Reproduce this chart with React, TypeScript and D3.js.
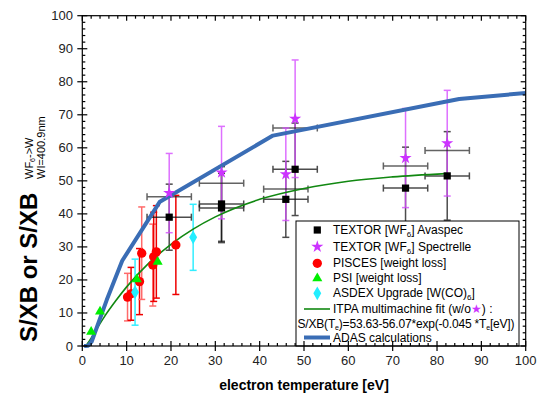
import React from "react";
import * as d3 from "d3";

// ADAS calculation curve
const adasTe = [0.4, 1.3, 2.1, 5.5, 9, 17.5, 43, 85, 100];
const adasSXB = [0, 0.1, 1.3, 13.9, 25.8, 43.7, 63.7, 74.8, 76.6];

// ITPA multimachine fit
const fitTe = [0.8, 2, 3, 5, 7.5, 10, 15, 20, 25, 30, 40, 50, 60, 70, 82];
const fitSXB = [0, 2.4, 4.6, 8.9, 13.6, 17.9, 25.1, 30.8, 35.4, 39.1, 44.4, 47.7, 49.9, 51.2, 52.2];

// TEXTOR [WF6] Avaspec: Te, S/XB, Te error, S/XB error
const avaspec = [
  [19.6, 39.0, 5, 10],
  [31.4, 43.0, 5, 11.3],
  [31.4, 41.8, 5, 10.5],
  [48.0, 53.5, 5, 14],
  [45.9, 44.4, 5, 11.5],
  [72.9, 47.8, 5, 12.4],
  [82.3, 51.5, 5, 13.4],
];

// TEXTOR [WF6] Spectrelle: Te, S/XB, S/XB error, Te error, level of Te bar
const spectrelle = [
  [19.6, 46.3, 12, 5, 45.2],
  [31.4, 52.5, 14, 5, 49.3],
  [48.0, 68.8, 17.8, 5, 66.0],
  [45.9, 52.0, 14, 5, 47.5],
  [72.9, 56.9, 15, 5, 54.5],
  [82.3, 61.4, 16, 5, 59.2],
];

// PISCES [weight loss]: Te, S/XB, error, light bar
const pisces = [
  [10.2, 14.8, 7.2, 1],
  [11.0, 15.8, 8, 0],
  [12.9, 19.5, 10, 0],
  [13.4, 28.1, 14, 1],
  [15.9, 24.5, 12.4, 1],
  [16.1, 27.0, 13.5, 0],
  [16.7, 28.5, 14, 0],
  [21.1, 30.6, 15, 0],
];

// PSI [weight loss]
const psiTe = [2.0, 4.0, 12.3, 17.0];
const psiSXB = [4.3, 10.4, 20.2, 25.5];

// ASDEX Upgrade [W(CO)6]: Te, S/XB, error
const asdex = [
  [11.9, 16.3, 10],
  [25.0, 32.9, 10],
];

const xTicks = d3.range(0, 101, 10);
const yTicks = d3.range(0, 101, 10);
const minorTicks = d3.range(0, 101, 2).filter((v) => v % 10 !== 0);

const W = 537, H = 396;
const font = "'Liberation Sans', Arial, sans-serif";

export default function App() {
  const x = d3.scaleLinear().domain([0, 100]).range([82.3, 525.7]);
  const y = d3.scaleLinear().domain([0, 100]).range([346, 15.7]);
  const [x0, x1] = x.range();
  const [y0, y1] = y.range();

  const line = d3.line<number>().x((_, i) => x(adasTe[i])).y((d) => y(d));
  const fitLine = d3
    .line<number>()
    .x((_, i) => x(fitTe[i]))
    .y((d) => y(d))
    .curve(d3.curveMonotoneX);

  const sym = (type: d3.SymbolType, size: number) => d3.symbol(type, size)() as string;
  const square = sym(d3.symbolSquare, 52);
  const star = sym(d3.symbolStar, 46);
  const circle = sym(d3.symbolCircle, 68);
  const tri = sym(d3.symbolTriangle, 44);
  const diamond = sym(d3.symbolDiamond, 54);

  const vBar = (key: string, t: number, lo: number, hi: number, color: string, op = 1, cap = 3.5) => (
    <g key={key} stroke={color} strokeWidth={1.5} opacity={op}>
      <line x1={x(t)} x2={x(t)} y1={y(lo)} y2={y(hi)} />
      <line x1={x(t) - cap} x2={x(t) + cap} y1={y(lo)} y2={y(lo)} />
      <line x1={x(t) - cap} x2={x(t) + cap} y1={y(hi)} y2={y(hi)} />
    </g>
  );
  const hBar = (key: string, s: number, lo: number, hi: number, color: string, op = 1) => (
    <g key={key} stroke={color} strokeWidth={1.5} opacity={op}>
      <line x1={x(lo)} x2={x(hi)} y1={y(s)} y2={y(s)} />
      <line x1={x(lo)} x2={x(lo)} y1={y(s) - 3.5} y2={y(s) + 3.5} />
      <line x1={x(hi)} x2={x(hi)} y1={y(s) - 3.5} y2={y(s) + 3.5} />
    </g>
  );

  const lx = 296, ly = 221, lw = 223, lh = y0 - 221;
  const rows = [230, 246.7, 263.3, 278.3, 293.3, 309, 324.5, 337.5];
  const symX = 317.3, textX = 333;

  return (
    <svg width={W} height={H} style={{ position: "absolute", left: 0, top: 0, background: "#fff" }} fontFamily={font}>
      {/* error bars */}
      {pisces.map(([t, s, e, light], i) =>
        vBar("pb" + i, t, s - e, s + e, light ? "#ff6a6a" : "#ee0000", 1)
      )}
      {asdex.map(([t, s, e], i) => vBar("ab" + i, t, s - e, s + e, "#33eeff"))}
      {avaspec.map(([t, s, te, se], i) => (
        <g key={"av" + i}>
          {vBar("v", t, s - se, s + se, "#111", 0.75)}
          {hBar("h", s, t - te, t + te, "#111", 0.75)}
        </g>
      ))}
      {spectrelle.map(([t, s, se, te, hy], i) => (
        <g key={"sp" + i}>
          {vBar("v", t, s - se, s + se, "#d64dff", 0.8)}
          {hBar("h", hy, t - te, t + te, "#222", 0.7)}
        </g>
      ))}

      {/* curves */}
      <path d={fitLine(fitSXB) || ""} fill="none" stroke="#118811" strokeWidth={1.6} />
      <path d={line(adasSXB) || ""} fill="none" stroke="#3a6db5" strokeWidth={4} strokeLinejoin="round" />

      {/* markers */}
      {pisces.map(([t, s], i) => (
        <path key={"pc" + i} d={circle} transform={`translate(${x(t)},${y(s)})`} fill="#ff0000" />
      ))}
      {psiTe.map((t, i) => (
        <path key={"ps" + i} d={tri} transform={`translate(${x(t)},${y(psiSXB[i])})`} fill="#00ee00" />
      ))}
      {asdex.map(([t, s], i) => (
        <path key={"ad" + i} d={diamond} transform={`translate(${x(t)},${y(s)})`} fill="#22eeff" />
      ))}
      {avaspec.map(([t, s], i) => (
        <path key={"sq" + i} d={square} transform={`translate(${x(t)},${y(s)})`} fill="#000" />
      ))}
      {spectrelle.map(([t, s], i) => (
        <path key={"st" + i} d={star} transform={`translate(${x(t)},${y(s)})`} fill="#cc33ff" />
      ))}

      {/* legend */}
      <rect x={lx} y={ly} width={lw} height={lh} fill="#fff" stroke="#000" strokeWidth={1} />
      <g fontSize={12} fill="#000">
        <path d={square} transform={`translate(${symX},${rows[0]})`} fill="#000" />
        <text x={textX} y={rows[0] + 4}>
          TEXTOR [WF<tspan fontSize={8} dy={3}>6</tspan><tspan dy={-3}>] Avaspec</tspan>
        </text>
        <path d={star} transform={`translate(${symX},${rows[1]})`} fill="#cc33ff" />
        <text x={textX} y={rows[1] + 4}>
          TEXTOR [WF<tspan fontSize={8} dy={3}>6</tspan><tspan dy={-3}>] Spectrelle</tspan>
        </text>
        <path d={circle} transform={`translate(${symX},${rows[2]})`} fill="#ff0000" />
        <text x={textX} y={rows[2] + 4}>PISCES [weight loss]</text>
        <path d={tri} transform={`translate(${symX},${rows[3]})`} fill="#00ee00" />
        <text x={textX} y={rows[3] + 4}>PSI [weight loss]</text>
        <path d={diamond} transform={`translate(${symX},${rows[4]})`} fill="#22eeff" />
        <text x={textX} y={rows[4] + 4}>
          ASDEX Upgrade [W(CO)<tspan fontSize={8} dy={3}>6</tspan><tspan dy={-3}>]</tspan>
        </text>
        <line x1={304} x2={330} y1={rows[5]} y2={rows[5]} stroke="#118811" strokeWidth={1.6} />
        <text x={textX} y={rows[5] + 4}>
          ITPA multimachine fit (w/o<tspan fill="#cc33ff">★</tspan>) :
        </text>
        <text x={297.5} y={rows[6] + 3} fontSize={12} textLength={217} lengthAdjust="spacing">
          S/XB(T<tspan fontSize={7} dy={2}>e</tspan><tspan dy={-2}>)=53.63-56.07*exp(-0.045 *T</tspan>
          <tspan fontSize={7} dy={2}>e</tspan><tspan dy={-2}>[eV])</tspan>
        </text>
        <line x1={304} x2={330} y1={rows[7]} y2={rows[7]} stroke="#3a6db5" strokeWidth={4} />
        <text x={textX} y={rows[7] + 4.5}>ADAS calculations</text>
      </g>

      {/* frame and ticks */}
      <rect x={x0} y={y1} width={x1 - x0} height={y0 - y1} fill="none" stroke="#000" strokeWidth={1.2} />
      <g stroke="#000" strokeWidth={1.2}>
        {xTicks.map((v) => (
          <g key={"xt" + v}>
            <line x1={x(v)} x2={x(v)} y1={y0 - 5} y2={y0 + 5} />
            <line x1={x(v)} x2={x(v)} y1={y1} y2={y1 + 5} />
          </g>
        ))}
        {minorTicks.map((v) => (
          <g key={"xm" + v}>
            <line x1={x(v)} x2={x(v)} y1={y0 - 3} y2={y0} />
            <line x1={x(v)} x2={x(v)} y1={y1} y2={y1 + 3} />
            <line x1={x0} x2={x0 + 3} y1={y(v)} y2={y(v)} />
            <line x1={x1 - 3} x2={x1} y1={y(v)} y2={y(v)} />
          </g>
        ))}
        {yTicks.map((v) => (
          <g key={"yt" + v}>
            <line x1={x0 - 5} x2={x0 + 5} y1={y(v)} y2={y(v)} />
            <line x1={x1 - 5} x2={x1} y1={y(v)} y2={y(v)} />
          </g>
        ))}
      </g>
      <g fontSize={13} fill="#222">
        {xTicks.map((v) => (
          <text key={"xl" + v} x={x(v)} y={365} textAnchor="middle">{v}</text>
        ))}
        {yTicks.map((v) => (
          <text key={"yl" + v} x={73} y={y(v) + 4.5} textAnchor="end">{v}</text>
        ))}
      </g>

      {/* axis titles */}
      <text x={(x0 + x1) / 2} y={390} textAnchor="middle" fontSize={14} fontWeight="bold">
        electron temperature [eV]
      </text>
      <g transform="translate(37,342) rotate(-90)">
        <text x={0} y={0} fontSize={24} fontWeight="bold">
          S/XB or S/XB
        </text>
        <text x={163} y={-4} fontSize={11}>
          WF<tspan fontSize={7} dy={2}>6</tspan><tspan dy={-2}>-&gt;W</tspan>
        </text>
        <text x={163} y={8} fontSize={11}>WI=400.9nm</text>
      </g>
    </svg>
  );
}
